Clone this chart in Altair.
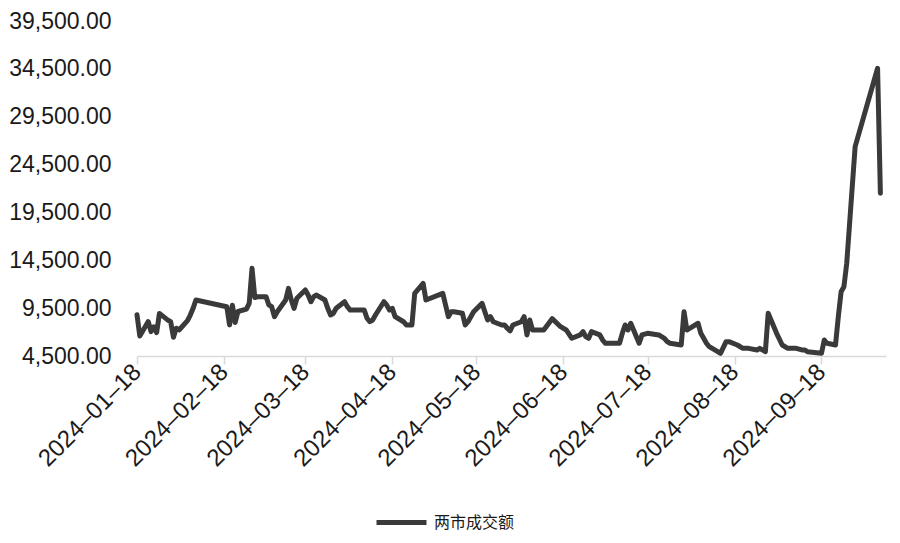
import altair as alt
import pandas as pd

series_name = "两市成交额"

dates = [
    "2024-01-18", "2024-01-19", "2024-01-22", "2024-01-23", "2024-01-24", "2024-01-25", "2024-01-26",
    "2024-01-29", "2024-01-30", "2024-01-31", "2024-02-01", "2024-02-02", "2024-02-05", "2024-02-06",
    "2024-02-07", "2024-02-08", "2024-02-19", "2024-02-20", "2024-02-21", "2024-02-22", "2024-02-23",
    "2024-02-26", "2024-02-27", "2024-02-28", "2024-02-29", "2024-03-01", "2024-03-04", "2024-03-05",
    "2024-03-06", "2024-03-07", "2024-03-08", "2024-03-11", "2024-03-12", "2024-03-13", "2024-03-14",
    "2024-03-15", "2024-03-18", "2024-03-19", "2024-03-20", "2024-03-21", "2024-03-22", "2024-03-25",
    "2024-03-26", "2024-03-27", "2024-03-28", "2024-03-29", "2024-04-01", "2024-04-02", "2024-04-03",
    "2024-04-08", "2024-04-09", "2024-04-10", "2024-04-11", "2024-04-12", "2024-04-15", "2024-04-16",
    "2024-04-17", "2024-04-18", "2024-04-19", "2024-04-22", "2024-04-23", "2024-04-24", "2024-04-25",
    "2024-04-26", "2024-04-29", "2024-04-30", "2024-05-06", "2024-05-07", "2024-05-08", "2024-05-09",
    "2024-05-10", "2024-05-13", "2024-05-14", "2024-05-15", "2024-05-17", "2024-05-20", "2024-05-21",
    "2024-05-22", "2024-05-23", "2024-05-24", "2024-05-27", "2024-05-28", "2024-05-29", "2024-05-30",
    "2024-05-31", "2024-06-03", "2024-06-04", "2024-06-05", "2024-06-06", "2024-06-07", "2024-06-11",
    "2024-06-14", "2024-06-17", "2024-06-19", "2024-06-21", "2024-06-24", "2024-06-25", "2024-06-26",
    "2024-06-27", "2024-06-28", "2024-07-01", "2024-07-02", "2024-07-03", "2024-07-08", "2024-07-09",
    "2024-07-10", "2024-07-11", "2024-07-12", "2024-07-15", "2024-07-16", "2024-07-18", "2024-07-22",
    "2024-07-24", "2024-07-25", "2024-07-26", "2024-07-30", "2024-07-31", "2024-08-01", "2024-08-02",
    "2024-08-05", "2024-08-06", "2024-08-08", "2024-08-09", "2024-08-12", "2024-08-13", "2024-08-15",
    "2024-08-16", "2024-08-19", "2024-08-21", "2024-08-23", "2024-08-26", "2024-08-27", "2024-08-28",
    "2024-08-29", "2024-08-30", "2024-09-02", "2024-09-04", "2024-09-06", "2024-09-09", "2024-09-11",
    "2024-09-12", "2024-09-13", "2024-09-18", "2024-09-19", "2024-09-20", "2024-09-23", "2024-09-24",
    "2024-09-25", "2024-09-26", "2024-09-27", "2024-09-30", "2024-10-08", "2024-10-09",
]

values = [
    8800, 6600, 8100, 7050, 7550, 6950, 8950,
    8250, 8080, 6450, 7400, 7220, 8190, 8780,
    9480, 10350, 9650, 7750, 9800, 8000, 9150,
    9400, 10000, 13660, 10600, 10700, 10700, 9830,
    9650, 8610, 9130, 10350, 11570, 10350, 9480,
    10530, 11400, 10870, 10170, 10700, 10870, 10350,
    9480, 8780, 8960, 9480, 10170, 9650, 9300,
    9300, 8440, 8080, 8260, 8780, 10170, 9830,
    9300, 9480, 8610, 8080, 7740, 7740, 7740,
    11050, 12090, 10350, 11050, 9830, 8610, 9130,
    9130, 8960, 7740, 8080, 9130, 10000, 9130,
    8260, 8610, 8080, 7740, 7740, 7400, 7130,
    7740, 8080, 8610, 6700, 8260, 7220, 7220,
    8400, 7560, 7220, 6350, 6700, 7040, 6520,
    6350, 7040, 6700, 6170, 5830, 5830, 6870,
    7740, 7220, 7920, 5830, 6700, 6870, 6700,
    6350, 6000, 5830, 5650, 9130, 7220, 7390,
    7920, 6870, 5830, 5470, 4950, 4780, 6000,
    6000, 5650, 5300, 5300, 5130, 5300, 5130,
    4950, 8960, 6870, 5650, 5300, 5300, 5130,
    5130, 4950, 4780, 6170, 5830, 5650, 8610,
    11220, 11740, 14190, 26370, 34560, 21500,
]

x_tick_dates = [
    "2024-01-18", "2024-02-18", "2024-03-18", "2024-04-18", "2024-05-18",
    "2024-06-18", "2024-07-18", "2024-08-18", "2024-09-18",
]
x_domain = ["2024-01-18", "2024-10-11"]
y_ticks = [4500, 9500, 14500, 19500, 24500, 29500, 34500, 39500]

df = pd.DataFrame({"date": dates, "value": values, "series": series_name})


def dt(s):
    y, m, d = (int(p) for p in s.split("-"))
    return alt.DateTime(year=y, month=m, date=d, utc=True)


LINE = "#3a3a3a"
TEXT = "#1a1a1a"
AXIS = "#d9d9d9"

chart = (
    alt.Chart(df)
    .mark_line(strokeWidth=5, strokeJoin="round", strokeCap="round")
    .encode(
        x=alt.X(
            "date:T",
            title=None,
            scale=alt.Scale(type="utc", domain=[dt(s) for s in x_domain]),
            axis=alt.Axis(
                values=[dt(s) for s in x_tick_dates],
                labelExpr="utcFormat(datum.value, '%Y–%m–%d')",
                labelAngle=-45,
                labelAlign="right",
                labelBaseline="middle",
                labelPadding=4,
                labelFont="Liberation Sans",
                labelFontSize=24,
                labelColor=TEXT,
                labelOverlap=False,
                labelFlush=False,
                domainColor=AXIS,
                domainWidth=1.5,
                tickColor=AXIS,
                tickWidth=1.5,
                tickSize=8,
                grid=False,
            ),
        ),
        y=alt.Y(
            "value:Q",
            title=None,
            scale=alt.Scale(domain=[4500, 39500], nice=False, zero=False),
            axis=alt.Axis(
                values=y_ticks,
                format=",.2f",
                labelFont="Liberation Sans",
                labelFontSize=23,
                labelColor=TEXT,
                labelPadding=26,
                labelOverlap=False,
                labelFlush=False,
                domain=False,
                ticks=False,
                grid=False,
            ),
        ),
        color=alt.Color(
            "series:N",
            title=None,
            scale=alt.Scale(range=[LINE]),
            legend=alt.Legend(
                orient="none",
                legendX=237,
                legendY=474,
                direction="horizontal",
                symbolType="stroke",
                symbolSize=2500,
                symbolStrokeWidth=5,
                labelFont="Noto Sans CJK SC",
                labelFontSize=16,
                labelColor=TEXT,
                labelOffset=5,
            ),
        ),
    )
    .properties(
        width=749,
        height=335,
        padding={"left": 129, "top": 13, "right": 5, "bottom": 185},
        autosize=alt.AutoSizeParams(type="none"),
    )
    .configure_view(stroke=None)
)

chart.save("out.html", embed_options={"renderer": "svg", "actions": False})
